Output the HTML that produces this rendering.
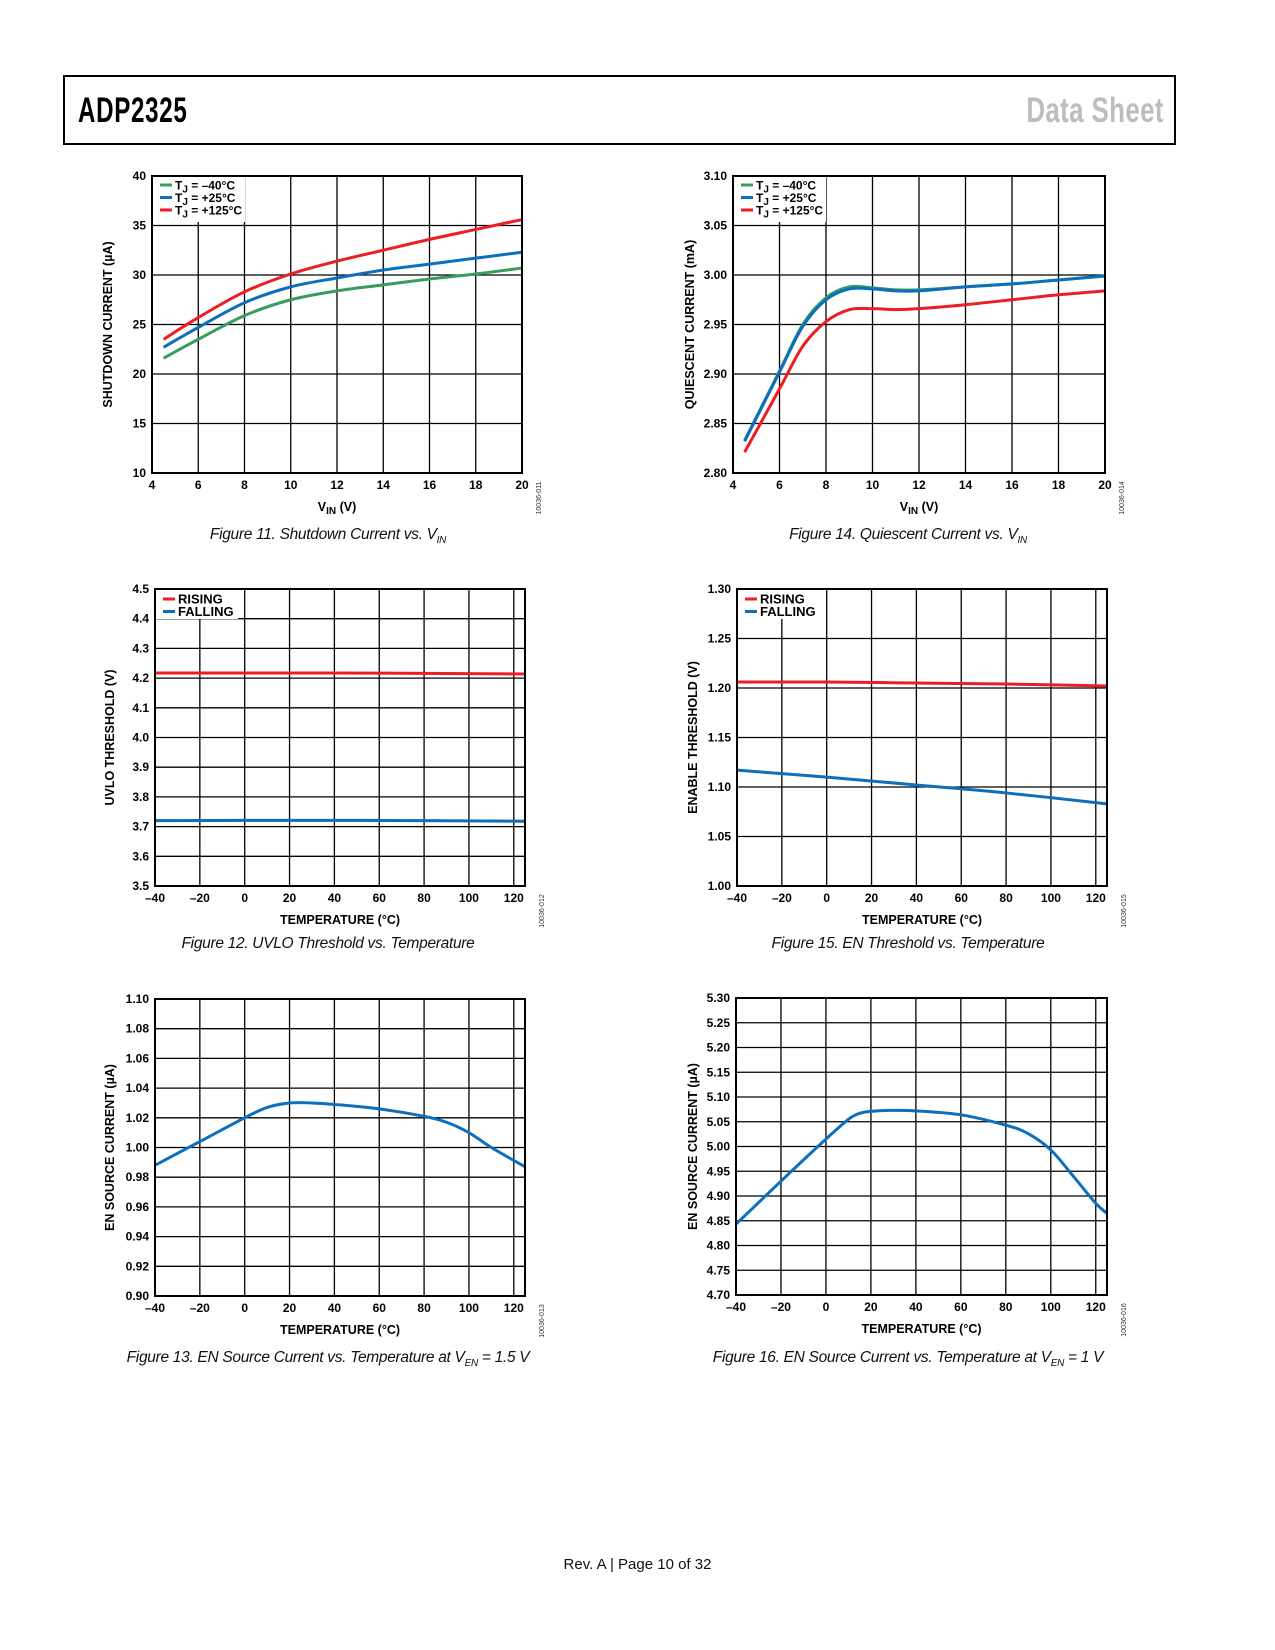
<!DOCTYPE html>
<html><head><meta charset="utf-8">
<style>
html,body{margin:0;padding:0;background:#fff;}
body{width:1275px;height:1650px;position:relative;overflow:hidden;font-family:"Liberation Sans",sans-serif;}
#hdr{position:absolute;left:63px;top:75px;width:1109px;height:66px;border:2px solid #000;}
#t1{position:absolute;left:13px;top:14px;font-family:"Liberation Sans",sans-serif;font-weight:bold;font-size:35px;letter-spacing:1px;color:#000;transform:scaleX(0.69);transform-origin:left center;}
#t2{position:absolute;right:10px;top:14px;font-family:"Liberation Sans",sans-serif;font-weight:bold;font-size:35px;letter-spacing:0.5px;color:#bdbdbd;transform:scaleX(0.74);transform-origin:right center;}
.cap{position:absolute;font-style:italic;font-size:15.5px;color:#111;text-align:center;width:500px;font-family:"Liberation Sans",sans-serif;letter-spacing:-0.3px;}
#foot{position:absolute;left:0;width:1275px;top:1556px;text-align:center;font-size:15px;color:#111;}
svg text{font-family:"Liberation Sans",sans-serif;}
</style></head><body>
<div id="hdr">
<div id="t1">ADP2325</div>
<div id="t2">Data Sheet</div>
</div>
<svg id="svg" width="1275" height="1650" style="position:absolute;left:0;top:0"></svg>
<div class="cap" style="left:78px;top:526px">Figure 11. Shutdown Current vs. V<sub style="font-size:10px">IN</sub></div>
<div class="cap" style="left:658px;top:526px">Figure 14. Quiescent Current vs. V<sub style="font-size:10px">IN</sub></div>
<div class="cap" style="left:78px;top:935px">Figure 12. UVLO Threshold vs. Temperature</div>
<div class="cap" style="left:658px;top:935px">Figure 15. EN Threshold vs. Temperature</div>
<div class="cap" style="left:78px;top:1349px">Figure 13. EN Source Current vs. Temperature at V<sub style="font-size:10px">EN</sub> = 1.5 V</div>
<div class="cap" style="left:658px;top:1349px">Figure 16. EN Source Current vs. Temperature at V<sub style="font-size:10px">EN</sub> = 1 V</div>
<div id="foot">Rev. A | Page 10 of 32</div>
<script>
// ---- data ----
const vin1 = [4.5,6,8,10,12,14,16,18,20];
const sdRed = [23.5,25.7,28.3,30.1,31.4,32.5,33.6,34.6,35.6];
const sdBlue = [22.7,24.7,27.2,28.8,29.7,30.5,31.1,31.7,32.3];
const sdGreen = [21.6,23.5,25.9,27.5,28.4,29.0,29.6,30.1,30.7];
const vin2 = [4.5,6,7,8,9,10,11,12,14,16,18,20];
const qGreen = [2.833,2.903,2.950,2.977,2.988,2.987,2.985,2.985,2.988,2.991,2.995,2.999];
const qBlue = [2.832,2.902,2.948,2.975,2.986,2.986,2.984,2.984,2.988,2.991,2.995,2.999];
const qRed = [2.821,2.885,2.928,2.953,2.965,2.966,2.965,2.966,2.970,2.975,2.980,2.984];
const tempA = [-40,0,40,80,125];
const uvRise = [4.217,4.217,4.217,4.216,4.214];
const uvFall = [3.720,3.721,3.721,3.720,3.718];
const enRise = [1.206,1.206,1.205,1.204,1.202];
const enFall = [1.117,1.110,1.102,1.094,1.083];
const tempB = [-40,-20,0,10,20,30,40,60,80,90,100,110,125];
const en15 = [0.988,1.004,1.020,1.027,1.030,1.030,1.029,1.026,1.021,1.017,1.010,1.000,0.987];
const tempC = [-40,-20,0,10,15,20,30,40,60,80,90,100,110,120,125];
const en1 = [4.843,4.930,5.015,5.055,5.067,5.071,5.073,5.072,5.064,5.043,5.026,4.993,4.940,4.885,4.865];
const xTicksV = [4,6,8,10,12,14,16,18,20];
const xTicksT = [-40,-20,0,20,40,60,80,100,120];

const RED='#ee1c24', BLUE='#0b6fbe', GREEN='#3a9b5e';
const S=document.getElementById('svg'), NS='http://www.w3.org/2000/svg';
function el(tag,attrs,parent){const e=document.createElementNS(NS,tag);for(const k in attrs)e.setAttribute(k,attrs[k]);(parent||S).appendChild(e);return e;}
function fmtT(v){return v<0?'\u2013'+(-v):String(v);}

function chart(c){
  const g=el('g',{});
  
  
  const X=v=>c.x0+(v-c.xmin)/(c.xmax-c.xmin)*(c.x1-c.x0);
  const Y=v=>c.y1-(v-c.ymin)/(c.ymax-c.ymin)*(c.y1-c.y0);
  c.xTicks.forEach(t=>{const l=el('line',{x1:X(t),x2:X(t),y1:c.y0,y2:c.y1,stroke:'#000','stroke-width':1.3},g);
    });
  c.yTicks.forEach(t=>{const l=el('line',{x1:c.x0,x2:c.x1,y1:Y(t),y2:Y(t),stroke:'#000','stroke-width':1.3},g);
    });
  c.series.forEach(s=>{
    const pts=s.xs.map((x,i)=>[X(x),Y(s.ys[i])]);
    let d='M'+pts[0][0]+','+pts[0][1];
    for(let i=0;i<pts.length-1;i++){
      const p0=pts[Math.max(0,i-1)],p1=pts[i],p2=pts[i+1],p3=pts[Math.min(pts.length-1,i+2)];
      const c1=[p1[0]+(p2[0]-p0[0])/6,p1[1]+(p2[1]-p0[1])/6],c2=[p2[0]-(p3[0]-p1[0])/6,p2[1]-(p3[1]-p1[1])/6];
      d+=' C'+c1[0]+','+c1[1]+' '+c2[0]+','+c2[1]+' '+p2[0]+','+p2[1];
    }
    const p=el('path',{d:d,fill:'none',stroke:s.color,'stroke-width':3,'stroke-linecap':'butt'},g);
    
    
  });
  if(c.legend){
    const L=c.legend;
    const r=el('rect',{x:c.x0+1,y:c.y0+1,width:L.w,height:L.h,fill:'#fff'},g);
    
    L.items.forEach((it,i)=>{
      const yy=c.y0+L.top+i*L.gap;
      const ln=el('line',{x1:c.x0+8,x2:c.x0+20,y1:yy,y2:yy,stroke:it.color,'stroke-width':3},g);
      
      const t=el('text',{x:c.x0+23,y:yy+4.5,'font-size':L.fs,'font-weight':'bold'},g);
      
      if(it.tj){
        t.appendChild(document.createTextNode('T'));
        const sb=el('tspan',{dy:3,'font-size':L.fs-2},t);sb.textContent='J';
        const r2=el('tspan',{dy:-3},t);r2.textContent=' = '+it.label;
      } else t.textContent=it.label;
    });
  }
  const b=el('rect',{x:c.x0,y:c.y0,width:c.x1-c.x0,height:c.y1-c.y0,fill:'none',stroke:'#000','stroke-width':2},g);
  
  c.xTicks.forEach(t=>{const tx=el('text',{x:X(t),y:c.y1+16,'font-size':12,'font-weight':'bold','text-anchor':'middle'},g);
    tx.textContent=c.xfmt(t);});
  c.yTicks.forEach(t=>{const tx=el('text',{x:c.x0-6,y:Y(t)+4,'font-size':12,'font-weight':'bold','text-anchor':'end'},g);
    tx.textContent=t.toFixed(c.yDec);});
  const xt=el('text',{x:(c.x0+c.x1)/2,y:c.y1+38,'font-size':12.5,'font-weight':'bold','text-anchor':'middle'},g);
  
  if(c.xtitle==='VIN'){xt.appendChild(document.createTextNode('V'));const s1=el('tspan',{dy:3,'font-size':10},xt);s1.textContent='IN';const s2=el('tspan',{dy:-3},xt);s2.textContent=' (V)';}
  else xt.textContent=c.xtitle;
  const yt=el('text',{x:0,y:0,'font-size':12.5,'font-weight':'bold','text-anchor':'middle',transform:'translate('+c.ytx+','+((c.y0+c.y1)/2)+') rotate(-90)'},g);
  yt.textContent=c.ytitle;
  const cd=el('text',{x:0,y:0,'font-size':7,'text-anchor':'middle',fill:'#333',transform:'translate('+(c.x1+19)+','+(c.y1+25)+') rotate(-90)'},g);
  cd.textContent=c.code;
}
function rng(a,b,s){const r=[];for(let v=a;v<=b+1e-9;v+=s)r.push(Math.round(v*1000)/1000);return r;}
const tjLegend={w:92,h:45,top:9,gap:12.5,fs:12,items:[{color:GREEN,label:'\u201340\u00b0C',tj:1},{color:BLUE,label:'+25\u00b0C',tj:1},{color:RED,label:'+125\u00b0C',tj:1}]};
const rfLegend={w:82,h:29,top:10,gap:12.5,fs:13,items:[{color:RED,label:'RISING'},{color:BLUE,label:'FALLING'}]};

chart({name:'shutdown-current-chart',x0:152,x1:522,y0:176,y1:473,xmin:4,xmax:20,ymin:10,ymax:40,xTicks:xTicksV,yTicks:rng(10,40,5),yDec:0,xfmt:String,
  xtitle:'VIN',ytitle:'SHUTDOWN CURRENT (\u00b5A)',ytx:112,code:'10036-011',legend:tjLegend,
  series:[{name:'series-minus40c',color:GREEN,xs:vin1,ys:sdGreen},{name:'series-25c',color:BLUE,xs:vin1,ys:sdBlue},{name:'series-125c',color:RED,xs:vin1,ys:sdRed}]});
chart({name:'quiescent-current-chart',x0:733,x1:1105,y0:176,y1:473,xmin:4,xmax:20,ymin:2.8,ymax:3.1,xTicks:xTicksV,yTicks:rng(2.8,3.1,0.05),yDec:2,xfmt:String,
  xtitle:'VIN',ytitle:'QUIESCENT CURRENT (mA)',ytx:694,code:'10036-014',legend:tjLegend,
  series:[{name:'series-minus40c',color:GREEN,xs:vin2,ys:qGreen},{name:'series-25c',color:BLUE,xs:vin2,ys:qBlue},{name:'series-125c',color:RED,xs:vin2,ys:qRed}]});
chart({name:'uvlo-threshold-chart',x0:155,x1:525,y0:589,y1:886,xmin:-40,xmax:125,ymin:3.5,ymax:4.5,xTicks:xTicksT,yTicks:rng(3.5,4.5,0.1),yDec:1,xfmt:fmtT,
  xtitle:'TEMPERATURE (\u00b0C)',ytitle:'UVLO THRESHOLD (V)',ytx:114,code:'10036-012',legend:rfLegend,
  series:[{name:'series-rising',color:RED,xs:tempA,ys:uvRise},{name:'series-falling',color:BLUE,xs:tempA,ys:uvFall}]});
chart({name:'en-threshold-chart',x0:737,x1:1107,y0:589,y1:886,xmin:-40,xmax:125,ymin:1.0,ymax:1.3,xTicks:xTicksT,yTicks:rng(1.0,1.3,0.05),yDec:2,xfmt:fmtT,
  xtitle:'TEMPERATURE (\u00b0C)',ytitle:'ENABLE THRESHOLD (V)',ytx:697,code:'10036-015',legend:rfLegend,
  series:[{name:'series-rising',color:RED,xs:tempA,ys:enRise},{name:'series-falling',color:BLUE,xs:tempA,ys:enFall}]});
chart({name:'en-source-current-1v5-chart',x0:155,x1:525,y0:999,y1:1296,xmin:-40,xmax:125,ymin:0.9,ymax:1.1,xTicks:xTicksT,yTicks:rng(0.9,1.1,0.02),yDec:2,xfmt:fmtT,
  xtitle:'TEMPERATURE (\u00b0C)',ytitle:'EN SOURCE CURRENT (\u00b5A)',ytx:114,code:'10036-013',
  series:[{name:'series-en-current',color:BLUE,xs:tempB,ys:en15}]});
chart({name:'en-source-current-1v-chart',x0:736,x1:1107,y0:998,y1:1295,xmin:-40,xmax:125,ymin:4.7,ymax:5.3,xTicks:xTicksT,yTicks:rng(4.7,5.3,0.05),yDec:2,xfmt:fmtT,
  xtitle:'TEMPERATURE (\u00b0C)',ytitle:'EN SOURCE CURRENT (\u00b5A)',ytx:697,code:'10036-016',
  series:[{name:'series-en-current',color:BLUE,xs:tempC,ys:en1}]});
</script>
</body></html>
